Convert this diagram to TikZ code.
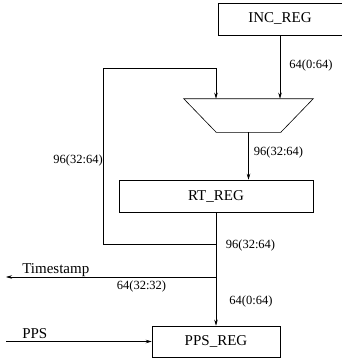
\documentclass[tikz,border=0pt]{standalone}
\usepackage{fontspec}
\setmainfont{Liberation Serif}
\usetikzlibrary{arrows.meta,positioning}

\begin{document}
\begin{tikzpicture}[
    x = 1pt, y = -1pt, % pixel units, y going down
    > = {Stealth[length=6pt,width=3.5pt]}, % arrow head style
    line width = 0.6pt % line style
    ]

    \tikzset{reg/.style={
    draw = black,
    minimum height = 32pt,
    inner sep = 0pt,
    font = \fontsize{15}{18}\selectfont
    }}
    \tikzset{lbl/.style={inner sep = 0pt, font = \fontsize{12.5}{15}\selectfont}}
    \tikzset{sig/.style={inner sep = 0pt, font = \fontsize{15}{18}\selectfont}}

    \useasboundingbox (0,0) rectangle (342,361);

    \node[reg, minimum width=124pt] (inc) at (280,19) {INC\_REG};
    \node[minimum width=129pt, minimum height=33pt, inner sep=0pt] (mux) at (248.5,115.5) {};
    \node[reg, minimum width=194pt] (rt) at (216,196) {RT\_REG};
    \node[reg, minimum width=128pt, minimum height=31pt] (pps) at (216,341.5) {PPS\_REG};

    % the mux outline
    \draw (mux.north west) -- (mux.north east) -- ([xshift=-32.5pt]mux.south east)
          -- ([xshift=32.5pt]mux.south west) -- cycle;

    \coordinate (j1) at (216,244);
    \coordinate (j2) at (216,277);
    \coordinate (fbCorner) at (103,68);
    \coordinate (tsEnd) at (6,277);
    \coordinate (ppsIn) at (6,341.5);

    \draw[->] (inc) -- (inc |- mux.north);
    \draw[->] (mux.south) -- (mux.south |- rt.north);
    \draw[->] (rt) -- (pps);
    \draw[->] (j1) -| (fbCorner) -| ([xshift=-32.5pt]mux.north);
    \draw[->] (j2) -- (tsEnd);
    \draw[->] (ppsIn) -- (pps.west);

    \node[lbl] (lIncOut) at (311,65) {64(0:64)};
    \node[lbl] (lMuxOut) at (278.5,152) {96(32:64)};
    \node[lbl, anchor=east] (lFb) at (103,160) {96(32:64)};
    \node[lbl] (lRtOut) at (250.5,245) {96(32:64)};
    \node[lbl] (lTs) at (141.5,286) {64(32:32)};
    \node[lbl] (lPpsIn) at (251,301) {64(0:64)};
    \node[sig, anchor=base west] (ts) at (22,273) {Timestamp};
    \node[sig, anchor=base west] (ppsSig) at (22,338) {PPS};
\end{tikzpicture}
\end{document}
